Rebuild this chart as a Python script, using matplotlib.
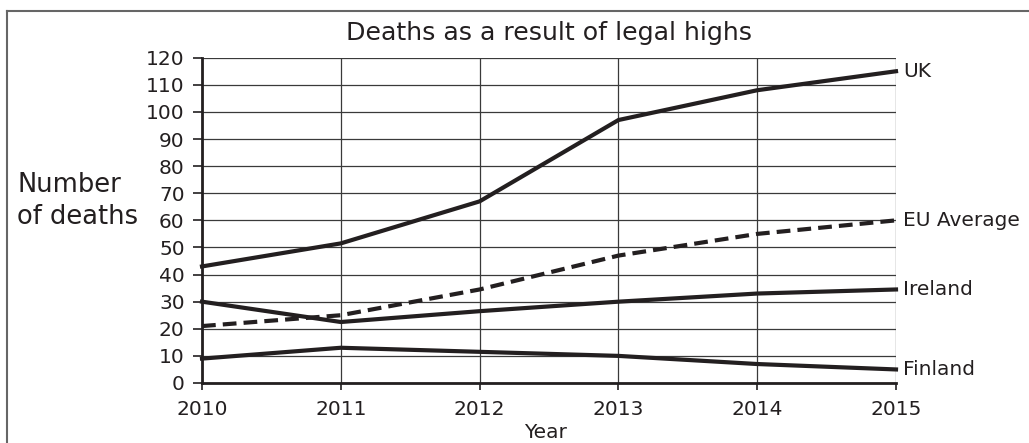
import matplotlib
matplotlib.use("Agg")
import matplotlib.pyplot as plt
from matplotlib.lines import Line2D

plt.rcParams['font.family'] = ['DejaVu Sans']

# data
years = [2010, 2011, 2012, 2013, 2014, 2015]
uk = [43, 51.5, 67, 97, 108, 115]
eu_average = [21, 25, 34.5, 47, 55, 60]
ireland = [30, 22.5, 26.5, 30, 33, 34.5]
finland = [9, 13, 11.5, 10, 7, 5]
series_names = ['UK', 'EU Average', 'Ireland', 'Finland']
y_ticks = list(range(0, 121, 10))

ink = '#231f20'
W, H = 1029, 443
fig = plt.figure(figsize=(W / 100, H / 100), dpi=100)

# outer frame (top and left edges only, as in the reference)
fig.add_artist(Line2D([7 / W, 1.0], [1 - 11 / H, 1 - 11 / H], color='#666666', lw=1.5))
fig.add_artist(Line2D([7 / W, 7 / W], [0, 1 - 11 / H], color='#666666', lw=1.5))

# plot area in pixels: x 202..896, y 57.7..383
ax = fig.add_axes([202 / W, (H - 383) / H, (896 - 202) / W, (383 - 57.7) / H])

ax.set_xlim(2010, 2015)
ax.set_ylim(0, 120)
ax.set_xticks(years)
ax.set_yticks(y_ticks)
ax.grid(True, color='#3a3a3a', lw=0.9)
ax.set_axisbelow(True)

for s in ['top', 'right']:
    ax.spines[s].set_visible(False)
for s in ['left', 'bottom']:
    ax.spines[s].set_linewidth(2)
    ax.spines[s].set_color(ink)

ax.tick_params(axis='y', length=6.5, width=1.2, pad=6, labelsize=14.5, colors=ink)
ax.tick_params(axis='x', length=5, width=1.2, pad=7, labelsize=14.5, colors=ink)

all_series = [uk, eu_average, ireland, finland]
styles = ['-', '--', '-', '-']
for name, vals, ls in zip(series_names, all_series, styles):
    line, = ax.plot(years, vals, color=ink, lw=3, ls=ls, clip_on=False,
                    solid_joinstyle='miter')
    if ls == '--':
        line.set_dashes((3.3, 1.7))
    ax.annotate(name, xy=(years[-1], vals[-1]), xytext=(5, 0),
                textcoords='offset points', ha='left', va='center',
                fontsize=14.5, color=ink, annotation_clip=False)

fig.text(549 / W, 1 - 33 / H, 'Deaths as a result of legal highs',
         ha='center', va='center', fontsize=18.2, color=ink)
fig.text(17 / W, 1 - 201 / H, 'Number\nof deaths', ha='left', va='center',
         fontsize=18.5, color=ink, linespacing=1.3)
fig.text(546 / W, 1 - 433 / H, 'Year', ha='center', va='center',
         fontsize=14.5, color=ink)

fig.savefig('out.png', dpi=100)
